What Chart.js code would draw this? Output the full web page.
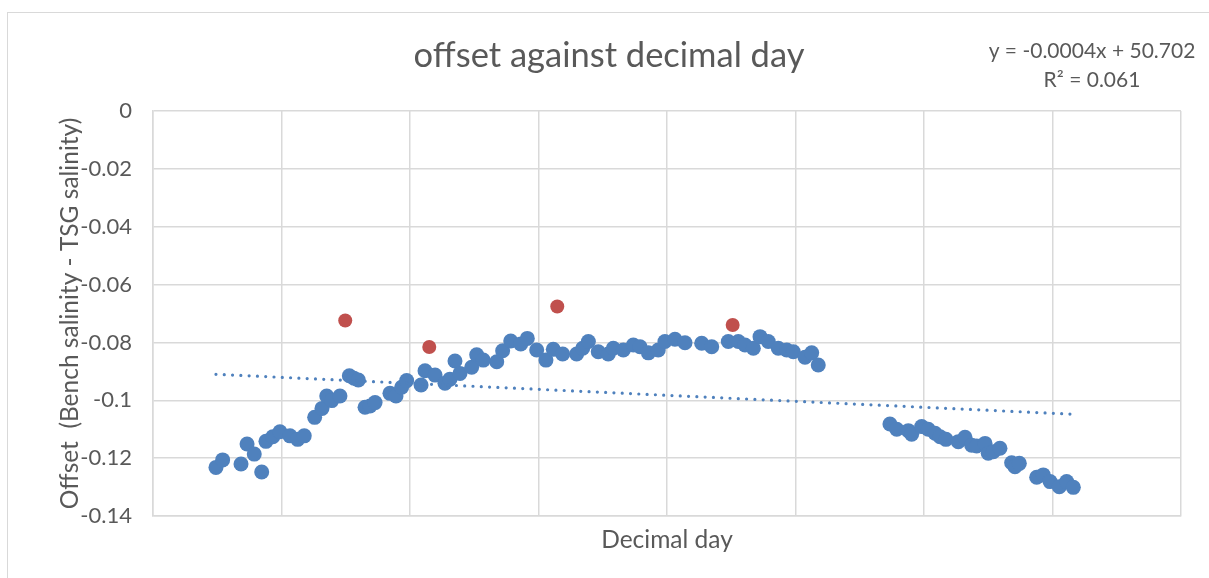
<!DOCTYPE html>
<html lang="en">
<head>
    <meta charset="UTF-8">
    <title>offset against decimal day</title>
    <script src="https://cdn.jsdelivr.net/npm/chart.js"></script>
    <style>
        html, body { margin: 0; padding: 0; background: #fff; overflow: hidden; }
        #frame {
            position: absolute; left: 7px; top: 12px;
            width: 1300px; height: 700px;
            border: 1px solid #d9d9d9;
        }
        #wrap { position: absolute; left: 0; top: 0; width: 1209px; height: 578px; }
    </style>
</head>
<body>
    <div id="frame"></div>
    <div id="wrap"><canvas id="chart" width="1209" height="578"></canvas></div>

    <script>
        // Datos (eje x sin etiquetas: unidades de la rejilla)
        const blueX = [0.490, 0.542, 0.685, 0.732, 0.788, 0.846, 0.879, 0.932, 0.988, 1.066,
                       1.126, 1.177, 1.258, 1.315, 1.352, 1.391, 1.455, 1.528, 1.564, 1.598,
                       1.650, 1.689, 1.728, 1.844, 1.891, 1.935, 1.974, 2.086, 2.117, 2.195,
                       2.272, 2.311, 2.350, 2.389, 2.480, 2.519, 2.570, 2.675, 2.721, 2.784,
                       2.862, 2.913, 2.986, 3.058, 3.115, 3.188, 3.297, 3.344, 3.388, 3.465,
                       3.543, 3.582, 3.660, 3.738, 3.790, 3.855, 3.932, 3.984, 4.062, 4.140,
                       4.270, 4.348, 4.477, 4.555, 4.607, 4.672, 4.724, 4.788, 4.866, 4.932,
                       4.983, 5.074, 5.126, 5.177,
                       5.735, 5.788, 5.878, 5.904, 5.982, 6.033, 6.086, 6.125, 6.171, 6.267,
                       6.319, 6.371, 6.410, 6.475, 6.500, 6.539, 6.591, 6.682, 6.708, 6.742,
                       6.877, 6.928, 6.981, 7.053, 7.110, 7.162];
        const blueY = [-0.1232, -0.1206, -0.1220, -0.1151, -0.1186, -0.1248, -0.1142, -0.1126, -0.1109, -0.1123,
                       -0.1135, -0.1123, -0.1059, -0.1028, -0.0985, -0.1001, -0.0985, -0.0915, -0.0924, -0.0930,
                       -0.1024, -0.1020, -0.1008, -0.0976, -0.0985, -0.0955, -0.0932, -0.0947, -0.0898, -0.0913,
                       -0.0941, -0.0927, -0.0864, -0.0907, -0.0886, -0.0843, -0.0861, -0.0867, -0.0829, -0.0795,
                       -0.0805, -0.0786, -0.0826, -0.0861, -0.0824, -0.0840, -0.0840, -0.0820, -0.0797, -0.0832,
                       -0.0840, -0.0820, -0.0826, -0.0809, -0.0815, -0.0836, -0.0826, -0.0797, -0.0789, -0.0801,
                       -0.0803, -0.0815, -0.0797, -0.0797, -0.0809, -0.0820, -0.0780, -0.0797, -0.0820, -0.0826,
                       -0.0832, -0.0851, -0.0836, -0.0878,
                       -0.1082, -0.1100, -0.1105, -0.1117, -0.1091, -0.1100, -0.1114, -0.1126, -0.1135, -0.1143,
                       -0.1128, -0.1155, -0.1158, -0.1149, -0.1183, -0.1178, -0.1166, -0.1216, -0.1230, -0.1218,
                       -0.1266, -0.1258, -0.1281, -0.1299, -0.1281, -0.1301];

        // Puntos descartados (rojo)
        const redX = [1.496, 2.150, 3.146, 4.511];
        const redY = [-0.0724, -0.0816, -0.0676, -0.0740];

        // Linea de tendencia (en unidades de la rejilla)
        const trendSlope = -0.00207;
        const trendIntercept = -0.0900;
        const equationLines = ['y = -0.0004x + 50.702', 'R\u00b2 = 0.061'];

        const titleText = 'offset against decimal day';
        const xTitle = 'Decimal day';
        const yTitle = 'Offset  (Bench salinity - TSG salinity)';

        const textColor = '#595959';
        const gridColor = '#d9d9d9';
        const fontFamily = 'Lato, "Open Sans", sans-serif';

        const toPoints = (xs, ys) => xs.map((x, i) => ({ x: x, y: ys[i] }));
        const xMin = Math.min(...blueX), xMax = Math.max(...blueX);
        const trendPoints = [xMin, xMax].map(x => ({ x: x, y: trendSlope * x + trendIntercept }));

        // Titulo y ecuacion dibujados como texto
        const textPlugin = {
            id: 'texts',
            afterDraw(chart) {
                const ctx = chart.ctx;
                ctx.save();
                ctx.fillStyle = textColor;
                ctx.textAlign = 'center';
                ctx.textBaseline = 'middle';
                ctx.font = '34.5px ' + fontFamily;
                ctx.fillText(titleText, 609, 56);
                ctx.font = '21px ' + fontFamily;
                ctx.fillText(equationLines[0], 1092, 51);
                ctx.fillText(equationLines[1], 1092, 80);
                ctx.restore();
            }
        };

        new Chart(document.getElementById('chart').getContext('2d'), {
            type: 'scatter',
            data: {
                datasets: [
                    {
                        label: 'Linear',
                        data: trendPoints,
                        showLine: true,
                        borderColor: '#4f81bd',
                        borderWidth: 3.2,
                        borderDash: [0, 8.3],
                        borderCapStyle: 'round',
                        pointRadius: 0,
                        fill: false
                    },
                    {
                        label: 'Offset',
                        data: toPoints(blueX, blueY),
                        backgroundColor: '#4f81bd',
                        borderWidth: 0,
                        pointRadius: 7.5
                    },
                    {
                        label: 'Outliers',
                        data: toPoints(redX, redY),
                        backgroundColor: '#c0504d',
                        borderWidth: 0,
                        pointRadius: 7
                    }
                ]
            },
            options: {
                responsive: false,
                animation: false,
                events: [],
                layout: { padding: { top: 111, right: 28, bottom: 0, left: 0 } },
                plugins: { legend: { display: false }, tooltip: { enabled: false } },
                scales: {
                    x: {
                        type: 'linear',
                        min: 0,
                        max: 8,
                        afterFit(scale) { scale.height = 62; },
                        ticks: { display: false, stepSize: 1 },
                        grid: { color: gridColor, lineWidth: 1.5, drawTicks: false },
                        border: { color: gridColor, width: 1.5 },
                        title: {
                            display: true,
                            text: xTitle,
                            color: textColor,
                            font: { family: fontFamily, size: 24.5 },
                            padding: { top: 9, bottom: 23 }
                        }
                    },
                    y: {
                        min: -0.14,
                        max: 0,
                        afterFit(scale) { scale.width = 153; },
                        ticks: {
                            stepSize: 0.02,
                            padding: 21,
                            color: textColor,
                            font: { family: fontFamily, size: 22 },
                            callback: v => String(Number(v.toFixed(2)))
                        },
                        grid: { color: gridColor, lineWidth: 1.5, drawTicks: false },
                        border: { color: gridColor, width: 1.5 },
                        title: {
                            display: true,
                            text: yTitle,
                            color: textColor,
                            font: { family: fontFamily, size: 24.5 },
                            padding: { top: 55, bottom: 0 }
                        }
                    }
                }
            },
            plugins: [textPlugin]
        });
    </script>
</body>
</html>
